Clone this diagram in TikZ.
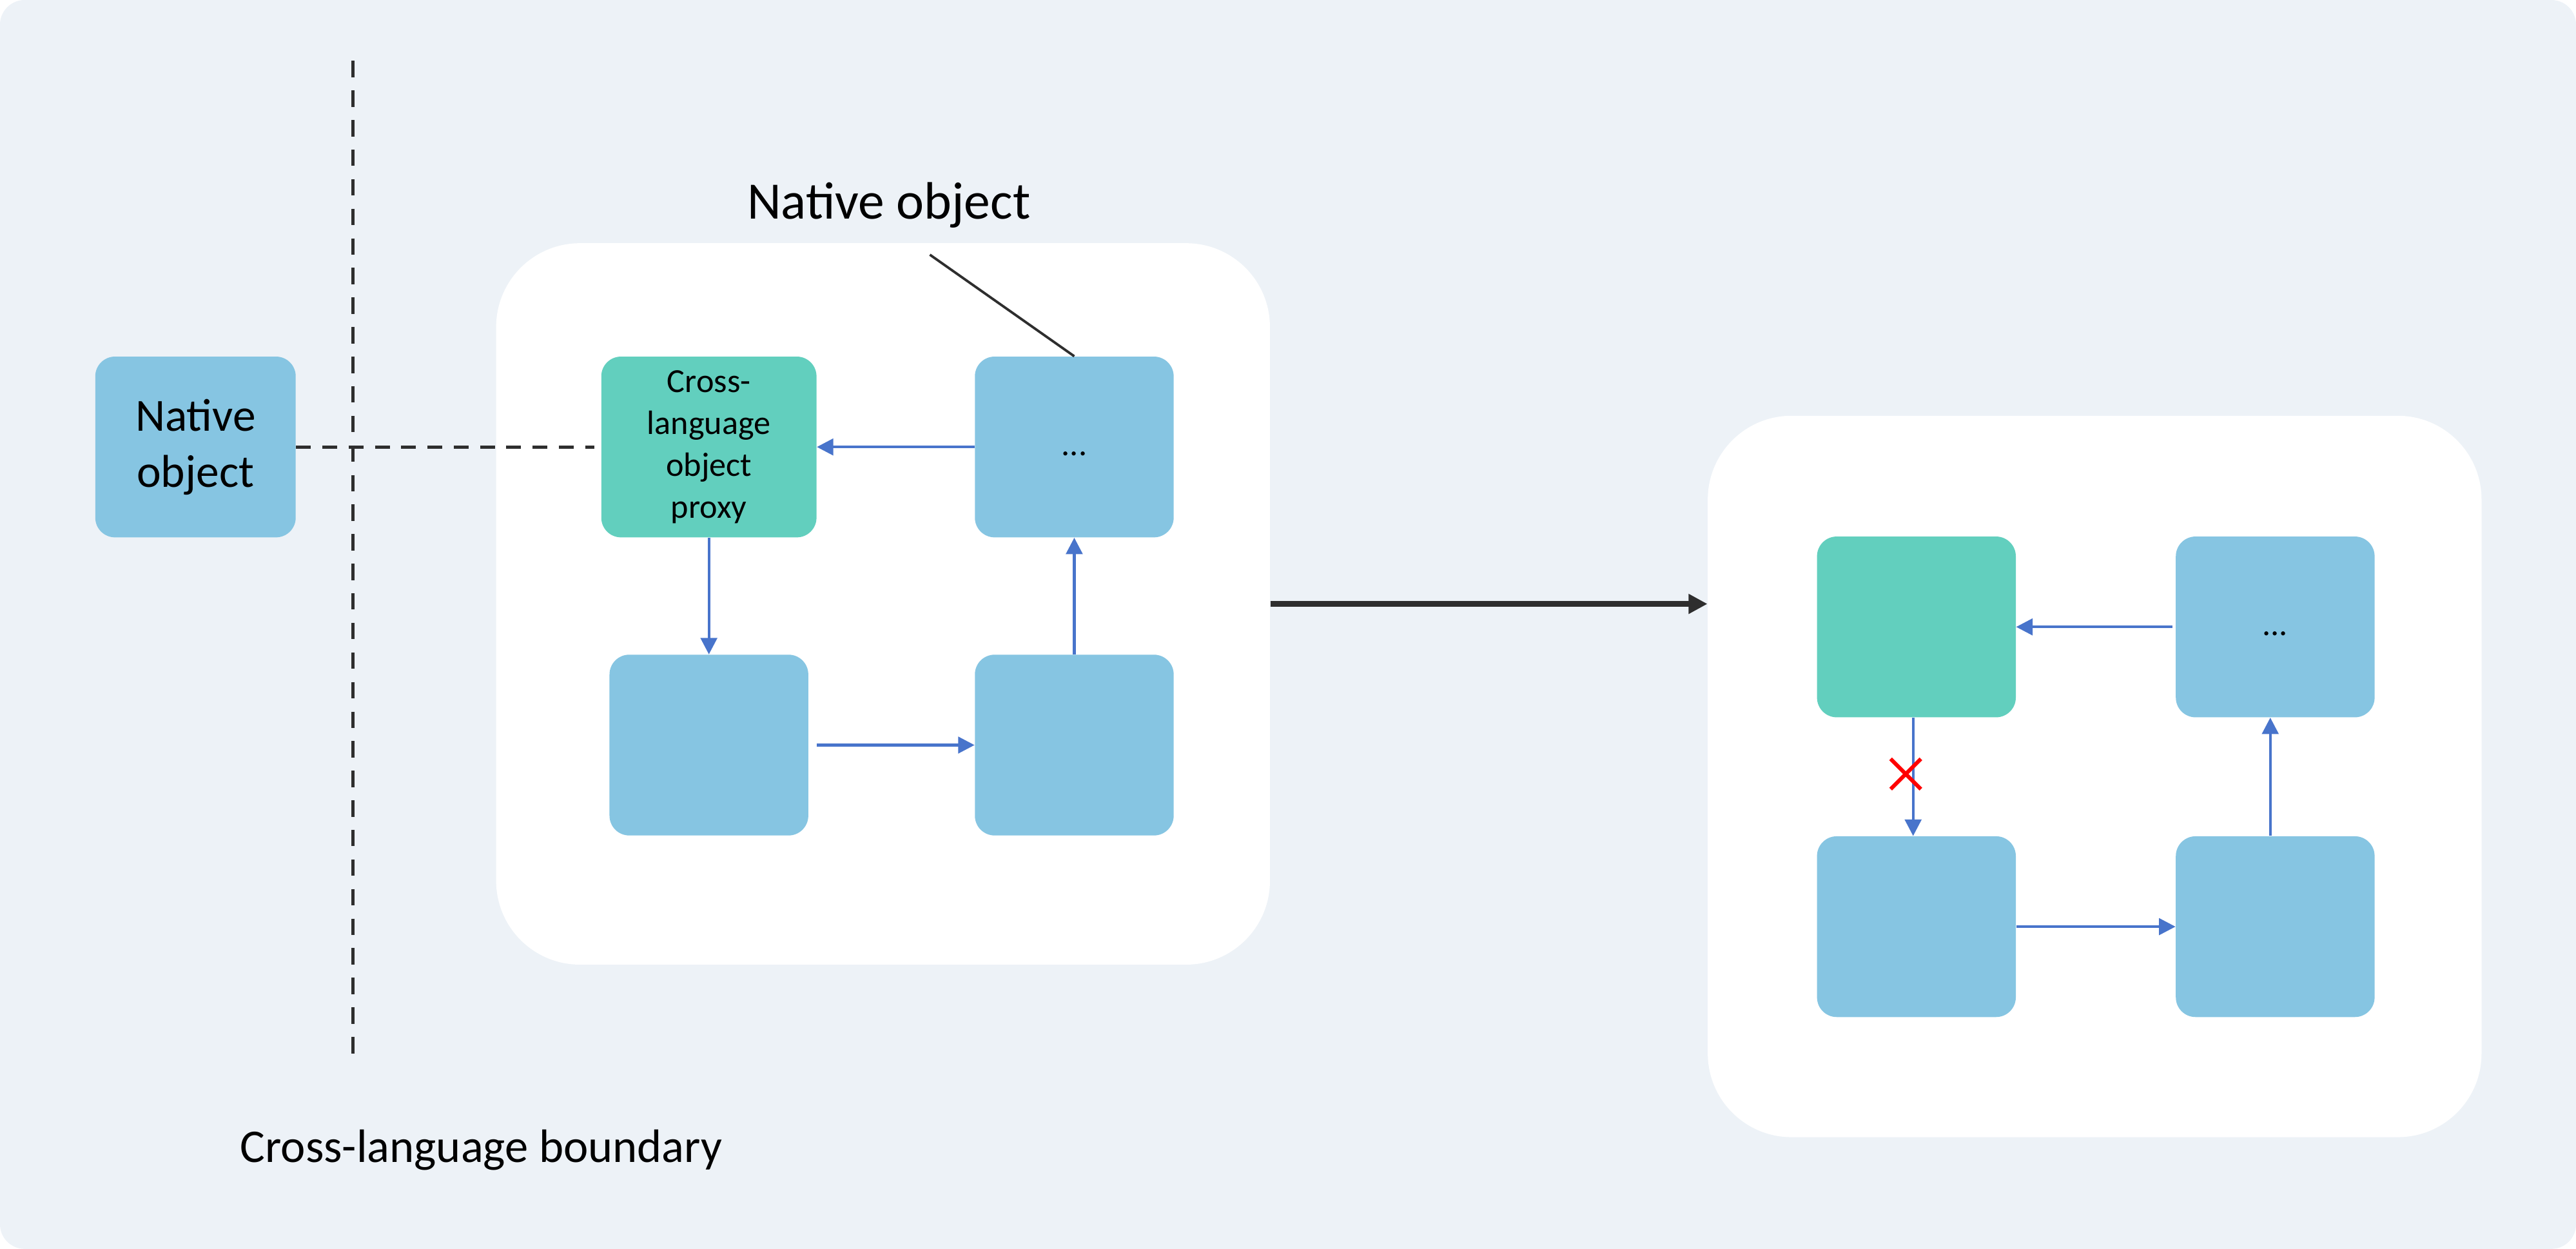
\documentclass[tikz,border=0pt]{standalone}
\usepackage{fontspec}
\setmainfont{Carlito}
\usetikzlibrary{arrows.meta,positioning,shapes.misc}
\definecolor{bgpane}{HTML}{EDF2F7}
\definecolor{objblue}{HTML}{86C5E2}
\definecolor{proxygreen}{HTML}{62CFBE}
\definecolor{linkblue}{HTML}{4874CB}
\definecolor{darkline}{HTML}{2E2E2E}

\begin{document}
\begin{tikzpicture}[x=1pt,y=-1pt,
  obj/.style={rounded corners=12pt,minimum width=121pt,minimum height=110pt,inner sep=2pt,align=center},
  heap/.style={fill=white,rounded corners=51pt,minimum width=471pt,minimum height=439pt},
  link/.style={draw=linkblue,line width=1.6pt,-{Triangle[length=10pt,width=10pt]}},
  boundary/.style={draw=darkline,line width=2pt,dash pattern=on 10pt off 8pt}]

  \useasboundingbox (0,0) rectangle (1568,760);
  \fill[bgpane,rounded corners=15pt] (0,0) rectangle (1568,760);

  % the two heaps
  \node[heap] (heapA) at (537.5,367.5) {};
  \node[heap] (heapB) at (1275,472.5) {};

  \begin{scope}[every node/.style={obj,fill=objblue,font=\fontsize{20.5}{25.5}\selectfont}]
    \node (native) [minimum width=122pt,font=\fontsize{28}{34}\selectfont] at (119,272) {Native\\object};
    \node (proxyA)[fill=proxygreen] [minimum width=131pt] at (431.5,272) {Cross-\\language\\object\\proxy};
    \node (dotsA) [right=96pt of proxyA] {\strut...};
    \node (lowA) [below=71pt of proxyA] {};
    \node (midA) [below=71pt of dotsA] {};

    \node (proxyB)[fill=proxygreen] at (1166.5,381.5) {};
    \node (dotsB) [right=97pt of proxyB] {\strut...};
    \node (lowB) [below=72pt of proxyB] {};
    \node (midB) [below=72pt of dotsB] {};
  \end{scope}

  % labels
  \node (lblobj) at (541,125) {\fontsize{32}{38}\selectfont Native object};
  \node (lblbound) at (293,700) {\fontsize{28.5}{34}\selectfont Cross-language boundary};
  \coordinate (lblfoot) at (566,155);
  \coordinate (bndtop) at (215,37);
  \coordinate (bndbot) at (215,643);

  \begin{scope}[every edge/.style={link}]
    \path (dotsA) edge (proxyA);
    \path (proxyA) edge (lowA);
    \path ([xshift=5pt]lowA.east) edge (midA);
    \path (midA) edge (dotsA);
    \path ([xshift=-2pt]dotsB.west) edge (proxyB);
    \path ([xshift=-2pt]proxyB.south) edge ([xshift=-2pt]lowB.north);
    \path (lowB) edge (midB);
    \path ([xshift=-3pt]midB.north) edge ([xshift=-3pt]dotsB.south);
  \end{scope}

  \node[cross out,draw=red,line width=2.4pt,minimum size=16pt,inner sep=0pt] (cut) at (1160,471) {};

  \draw[boundary] (bndtop) -- (bndbot);
  \draw[boundary,dash pattern=on 9pt off 7pt,shorten >=4pt] (native) -- (proxyA);
  \draw[darkline,line width=1.5pt] (lblfoot) -- (dotsA.north);
  \draw[darkline,line width=3.5pt,-{Triangle[length=11.5pt,width=11.5pt]}] (heapA.east) -- (heapA.east -| heapB.west);
\end{tikzpicture}
\end{document}
